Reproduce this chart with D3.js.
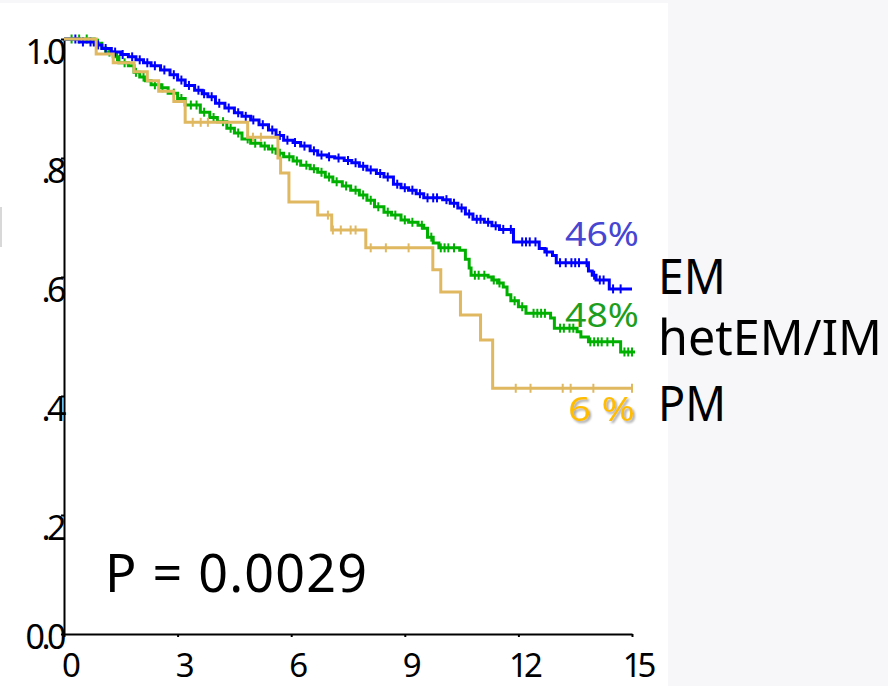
<!DOCTYPE html>
<html><head><meta charset="utf-8">
<script src="https://cdn.jsdelivr.net/npm/d3@7"></script>
<style>body{margin:0;background:#f7f7f9;} svg{display:block}</style>
</head><body><svg id="c" width="888" height="686"></svg>
<script>
// ---------- data ----------
const xTicks = [0, 3, 6, 9, 12, 15];
const yTicks = [0, 0.2, 0.4, 0.6, 0.8, 1.0];
const yTickLabels = ["0.0", ".2", ".4", ".6", ".8", "1.0"];
const seriesNames = ["EM", "hetEM/IM", "PM"];
const seriesPct = ["46%", "48%", "6 %"];
const pText = "P = 0.0029";

// [time, survival] step points
const emSteps = [[0,1.0],[0.4,0.995],[0.8,0.99],[1.0,0.984],[1.25,0.978],[1.5,0.974],[1.7,0.97],[1.9,0.965],[2.1,0.96],[2.3,0.955],[2.55,0.948],[2.8,0.94],[3.0,0.931],[3.2,0.922],[3.45,0.914],[3.65,0.908],[3.8,0.903],[4.0,0.892],[4.25,0.884],[4.5,0.876],[4.7,0.870],[4.93,0.864],[5.15,0.856],[5.4,0.847],[5.6,0.838],[5.8,0.830],[6.05,0.826],[6.25,0.82],[6.5,0.812],[6.7,0.805],[6.95,0.802],[7.15,0.800],[7.4,0.796],[7.6,0.792],[7.8,0.786],[8.0,0.78],[8.25,0.774],[8.45,0.768],[8.7,0.756],[8.9,0.75],[9.1,0.746],[9.3,0.74],[9.5,0.733],[10.0,0.73],[10.2,0.724],[10.4,0.716],[10.6,0.706],[10.8,0.697],[11.1,0.692],[11.3,0.686],[11.5,0.68],[11.87,0.659],[12.55,0.648],[12.7,0.642],[12.9,0.636],[13.0,0.624],[13.85,0.61],[13.95,0.603],[14.05,0.595],[14.4,0.58],[15.0,0.58]];
const hetSteps = [[0,1.0],[0.8,0.993],[1.0,0.985],[1.1,0.978],[1.3,0.97],[1.45,0.96],[1.7,0.955],[1.85,0.944],[2.0,0.936],[2.15,0.93],[2.3,0.923],[2.55,0.918],[2.75,0.909],[3.0,0.9],[3.2,0.889],[3.6,0.877],[3.85,0.868],[4.05,0.861],[4.3,0.85],[4.5,0.842],[4.7,0.832],[4.93,0.825],[5.2,0.82],[5.4,0.815],[5.6,0.808],[5.8,0.802],[6.05,0.795],[6.25,0.788],[6.5,0.782],[6.7,0.776],[6.9,0.768],[7.1,0.76],[7.35,0.753],[7.57,0.746],[7.8,0.738],[8.0,0.729],[8.2,0.718],[8.45,0.709],[8.65,0.704],[8.9,0.696],[9.1,0.692],[9.35,0.687],[9.5,0.682],[9.6,0.667],[9.75,0.657],[9.9,0.649],[10.45,0.645],[10.6,0.63],[10.7,0.615],[10.75,0.603],[11.2,0.6],[11.3,0.595],[11.45,0.59],[11.6,0.583],[11.7,0.57],[11.8,0.56],[12.0,0.55],[12.2,0.539],[12.85,0.531],[12.95,0.514],[13.55,0.508],[13.65,0.499],[13.85,0.491],[14.7,0.474],[15.08,0.474]];
const pmSteps = [[0,1.0],[0.85,0.975],[1.3,0.96],[1.85,0.945],[2.2,0.93],[2.5,0.912],[2.9,0.895],[3.2,0.86],[4.85,0.835],[5.65,0.80],[5.72,0.775],[5.94,0.726],[6.7,0.704],[7.07,0.679],[7.97,0.649],[9.74,0.612],[9.95,0.575],[10.47,0.536],[11.0,0.494],[11.32,0.413],[15.0,0.413]];

// censoring times
const emCensor = [0.3,0.5,0.7,0.9,1.1,1.35,1.55,1.8,2.0,2.2,2.4,2.65,2.9,3.1,3.3,3.55,3.7,3.9,4.1,4.35,4.6,4.8,5.0,5.25,5.5,5.7,5.9,6.1,6.35,6.6,6.8,7.0,7.25,7.5,7.7,7.9,8.1,8.35,8.55,8.8,9.0,9.2,9.4,9.6,9.75,9.85,10.1,10.3,10.5,10.7,10.9,11.0,11.2,11.4,11.6,11.8,12.1,12.2,12.3,12.45,12.75,13.1,13.25,13.4,13.5,13.6,13.8,14.0,14.15,14.25,14.5,14.7];
const hetCensor = [0.2,0.4,0.6,0.9,1.2,1.4,1.6,1.9,2.1,2.4,2.6,2.9,3.1,3.35,3.5,3.7,3.95,4.2,4.4,4.6,4.85,5.05,5.3,5.5,5.7,5.95,6.15,6.4,6.6,6.8,7.0,7.2,7.45,7.7,7.9,8.1,8.3,8.55,8.75,9.0,9.2,9.45,9.7,9.95,10.05,10.15,10.3,10.85,10.95,11.1,11.35,11.5,11.9,12.1,12.4,12.5,12.6,12.7,13.1,13.2,13.35,13.45,13.9,14.0,14.1,14.2,14.35,14.5,14.8,14.9,15.0];
const pmCensor = [3.4,3.61,3.8,4.99,5.2,6.97,7.1,7.31,7.57,7.7,8.1,8.5,9.1,11.93,12.32,13.17,13.38,13.98,15.0];

// ---------- drawing ----------
const svg = d3.select("#c");
const defs = svg.append("defs");
const f = defs.append("filter").attr("id","sh").attr("x","-20%").attr("y","-20%").attr("width","150%").attr("height","150%");
f.append("feDropShadow").attr("dx",2).attr("dy",2).attr("stdDeviation",1.2).attr("flood-color","#888").attr("flood-opacity",0.7);

svg.append("rect").attr("x",0).attr("y",0).attr("width",888).attr("height",686).attr("fill","#f7f7f9");
svg.append("rect").attr("x",0).attr("y",3).attr("width",668).attr("height",683).attr("fill","#ffffff");
svg.append("rect").attr("x",0).attr("y",207).attr("width",2).attr("height",40).attr("fill","#d8d8d8");

const x = d3.scaleLinear().domain([0,15]).range([64,632]);
const y = d3.scaleLinear().domain([0,1]).range([634,39]);

const FONT = "'Noto Sans', 'Open Sans', sans-serif";

// axes
const yAxis = d3.axisLeft(y).tickValues(yTicks).tickSize(3).tickSizeOuter(0)
  .tickFormat((d,i)=>yTickLabels[i]);
const gy = svg.append("g").attr("transform","translate(64,0)").call(yAxis);
gy.select(".domain").attr("stroke","#000").attr("stroke-width",2);
gy.selectAll(".tick line").attr("stroke","#000").attr("stroke-width",2);
gy.selectAll(".tick text").attr("font-family",FONT).attr("font-size",34)
  .attr("fill","#000").attr("letter-spacing","-3.5px")
  .attr("x",-1).attr("dy",null)
  .attr("y",d=> d===0 ? 14 : 24);

const xAxis = d3.axisBottom(x).tickValues(xTicks).tickSize(3).tickSizeOuter(0);
const gx = svg.append("g").attr("transform","translate(0,634)").call(xAxis);
gx.select(".domain").attr("stroke","#000").attr("stroke-width",2);
gx.selectAll(".tick line").attr("stroke","#000").attr("stroke-width",2);
gx.selectAll(".tick text").attr("font-family",FONT).attr("font-size",33)
  .attr("fill","#000").attr("letter-spacing","-4px")
  .attr("x",5).attr("dy",null).attr("y",43);

// curves
function survAt(steps,t){ let v=steps[0][1]; for(const s of steps){ if(s[0]<=t) v=s[1]; else break; } return v; }
const line = d3.line().x(d=>x(d[0])).y(d=>y(d[1])).curve(d3.curveStepAfter);

const series = [
  {steps:pmSteps, cens:pmCensor, color:"#e0b860"},
  {steps:hetSteps, cens:hetCensor, color:"#00b000"},
  {steps:emSteps, cens:emCensor, color:"#0000ff"}
];
const order = [1,2,0];
order.forEach(i=>{
  const s = series[i];
  const g = svg.append("g");
  g.append("path").datum(s.steps).attr("d",line).attr("fill","none")
    .attr("stroke",s.color).attr("stroke-width",3).attr("stroke-linejoin","miter");
  g.selectAll("line.c").data(s.cens).join("line")
    .attr("x1",d=>x(d)).attr("x2",d=>x(d))
    .attr("y1",d=>y(survAt(s.steps,d))-4.5).attr("y2",d=>y(survAt(s.steps,d))+4.5)
    .attr("stroke",s.color).attr("stroke-width",2);
});

// percentage labels
const pct = [
  {t:seriesPct[0], x:565, y:246, c:"#4646d2", len:74, sh:false},
  {t:seriesPct[1], x:565, y:327, c:"#1e9e1e", len:74, sh:false},
  {t:seriesPct[2], x:568, y:421, c:"#ffbd00", len:67, sh:true}
];
pct.forEach(p=>{
  const tx = svg.append("text").attr("x",p.x).attr("y",p.y).text(p.t)
    .attr("font-family",FONT).attr("font-size",33).attr("fill",p.c)
    .attr("textLength",p.len).attr("lengthAdjust","spacingAndGlyphs");
  if(p.sh) tx.attr("filter","url(#sh)");
});

// series names
const names = [{t:seriesNames[0], y:294, len:68},{t:seriesNames[1], y:355, len:224},{t:seriesNames[2], y:421, len:68}];
names.forEach(n=>{
  svg.append("text").attr("x",658).attr("y",n.y).text(n.t)
    .attr("font-family",FONT).attr("font-size",49).attr("fill","#000")
    .attr("textLength",n.len).attr("lengthAdjust","spacingAndGlyphs");
});

// p-value
svg.append("text").attr("x",105).attr("y",592).text(pText)
  .attr("font-family",FONT).attr("font-size",52).attr("fill","#000")
  .attr("textLength",262).attr("lengthAdjust","spacing");
</script></body></html>
